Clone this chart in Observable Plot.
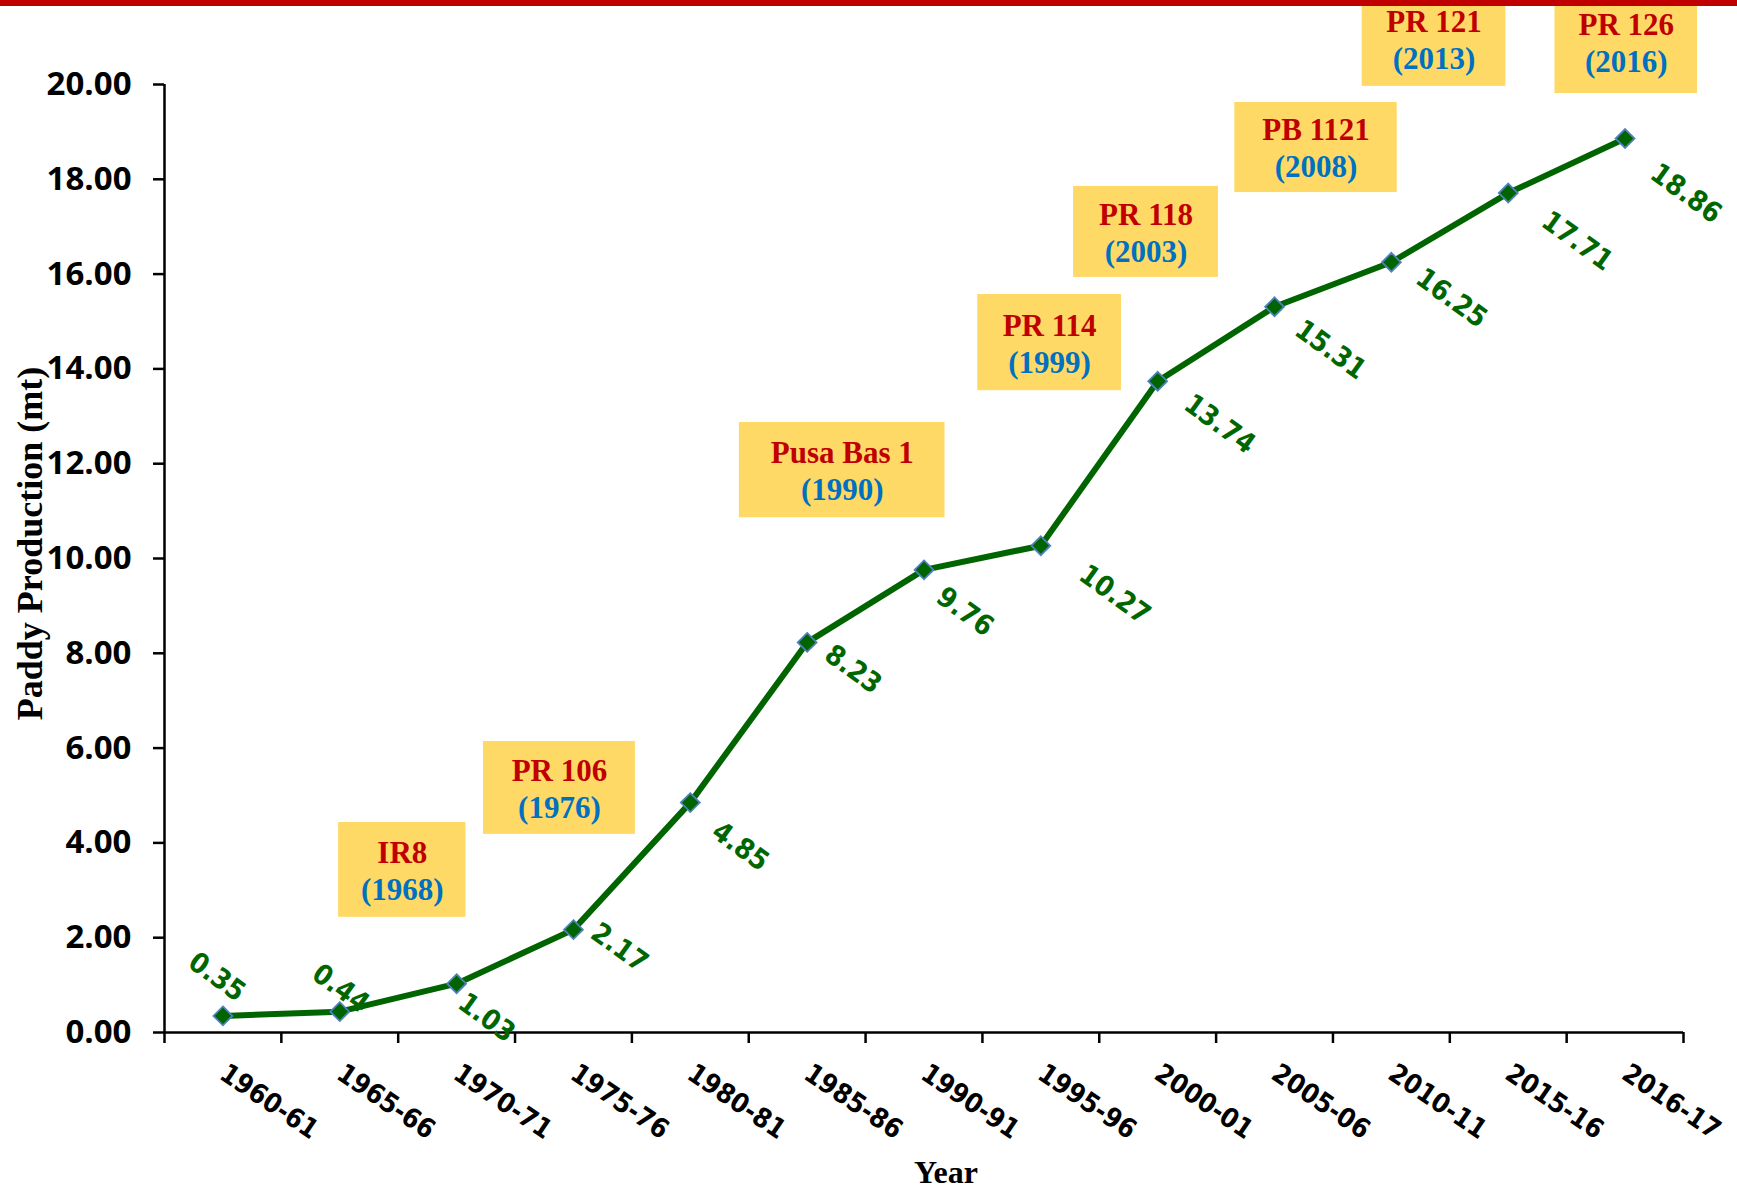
<!DOCTYPE html>
<html><head><meta charset="utf-8">
<script src="https://cdn.jsdelivr.net/npm/d3@7"></script>
<script src="https://cdn.jsdelivr.net/npm/@observablehq/plot@0.6"></script>
<style>
body{margin:0;background:#fff;}
#bar{height:6px;background:#C00000;}
#chart svg{overflow:hidden;display:block;}
</style></head><body>
<div id="bar"></div><div id="chart"></div>
<script>
// ---- data ----
const years = ["1960-61","1965-66","1970-71","1975-76","1980-81","1985-86","1990-91","1995-96","2000-01","2005-06","2010-11","2015-16","2016-17"];
const production = [0.35,0.44,1.03,2.17,4.85,8.23,9.76,10.27,13.74,15.31,16.25,17.71,18.86];
const yTicks = [0,2,4,6,8,10,12,14,16,18,20];
const varieties = ["IR8","PR 106","Pusa Bas 1","PR 114","PR 118","PB 1121","PR 121","PR 126"];
const releaseYears = [1968,1976,1990,1999,2003,2008,2013,2016];

// ---- annotation layout (data units: x = category index, y = production) ----
const boxX1 = [0.99,2.23,4.42,6.46,7.28,8.66,9.75,11.40];
const boxX2 = [2.08,3.53,6.18,7.69,8.52,10.05,10.98,12.62];
const boxY1 = [2.43,4.18,10.86,13.54,15.93,17.72,19.96,19.81];
const boxY2 = [4.43,6.14,12.87,15.57,17.85,19.62,21.94,21.99];
// value-label offsets (px) from each point
const labelDx = [-6,1,30,46,50,46,41,74,62,56,60,69,61];
const labelDy = [-39,-23,34,18,44,27,42,49,43,43,36,48,55];

const idx = years.map((_, i) => i);
const annIdx = varieties.map((_, i) => i);
const boundaries = d3.range(-0.5, years.length, 1);

const green = "#006400";
const serif = "Liberation Serif";
const cond = "'DejaVu Sans Condensed', 'DejaVu Sans'";

const labelMarks = idx.map(i => Plot.text([i], {
  x: d => d, y: d => production[d], text: d => production[d].toFixed(2),
  dx: labelDx[i], dy: labelDy[i], rotate: 36,
  fill: "#006600", fontWeight: "bold", fontSize: 28, fontFamily: cond
}));

const chart = Plot.plot({
  width: 1737,
  height: 1184,
  marginTop: 78,
  marginBottom: 158,
  marginLeft: 164,
  marginRight: 54,
  style: {fontFamily: "Open Sans", background: "white", color: "black"},
  x: {domain: [-0.5, years.length - 0.5]},
  y: {domain: [0, 20]},
  marks: [
    Plot.rect(annIdx, {x1: i => boxX1[i], x2: i => boxX2[i], y1: i => boxY1[i], y2: i => boxY2[i], fill: "#FFD966"}),
    Plot.text(annIdx, {x: i => (boxX1[i]+boxX2[i])/2, y: i => (boxY1[i]+boxY2[i])/2, text: i => varieties[i],
      dy: -17, fill: "#C00000", fontFamily: serif, fontWeight: "bold", fontSize: 31}),
    Plot.text(annIdx, {x: i => (boxX1[i]+boxX2[i])/2, y: i => (boxY1[i]+boxY2[i])/2, text: i => `(${releaseYears[i]})`,
      dy: 20, fill: "#0070C0", fontFamily: serif, fontWeight: "bold", fontSize: 31}),
    Plot.axisY({ticks: yTicks, tickFormat: d => d.toFixed(2), tickSize: 11, tickPadding: 22,
      fontSize: 33, fontWeight: "bold", strokeWidth: 2.5, label: null}),
    Plot.axisX({ticks: boundaries, tickFormat: () => "", tickSize: 11, strokeWidth: 2.5, label: null}),
    Plot.axisX({ticks: idx, tickFormat: i => years[i], tickSize: 0, tickPadding: 38, tickRotate: 34,
      fontSize: 27, fontWeight: "bold", fontFamily: cond, label: null}),
    Plot.ruleY([0], {strokeWidth: 2.5}),
    Plot.ruleX([-0.5], {strokeWidth: 2.5}),
    Plot.line(idx, {x: d => d, y: d => production[d], stroke: green, strokeWidth: 6}),
    Plot.dot(idx, {x: d => d, y: d => production[d], symbol: "diamond2", r: 8.5, fill: green, stroke: "#4F81BD", strokeWidth: 1.8}),
    ...labelMarks,
    Plot.text(["Paddy Production (mt)"], {frameAnchor: "left", text: d => d, rotate: -90, dx: -134, dy: -15,
      textAnchor: "middle", fontFamily: serif, fontWeight: "bold", fontSize: 36}),
    Plot.text(["Year"], {frameAnchor: "bottom", text: d => d, dx: 22, dy: 150, lineAnchor: "bottom",
      fontFamily: serif, fontWeight: "bold", fontSize: 32})
  ]
});
document.getElementById("chart").appendChild(chart);
</script>
</body></html>
